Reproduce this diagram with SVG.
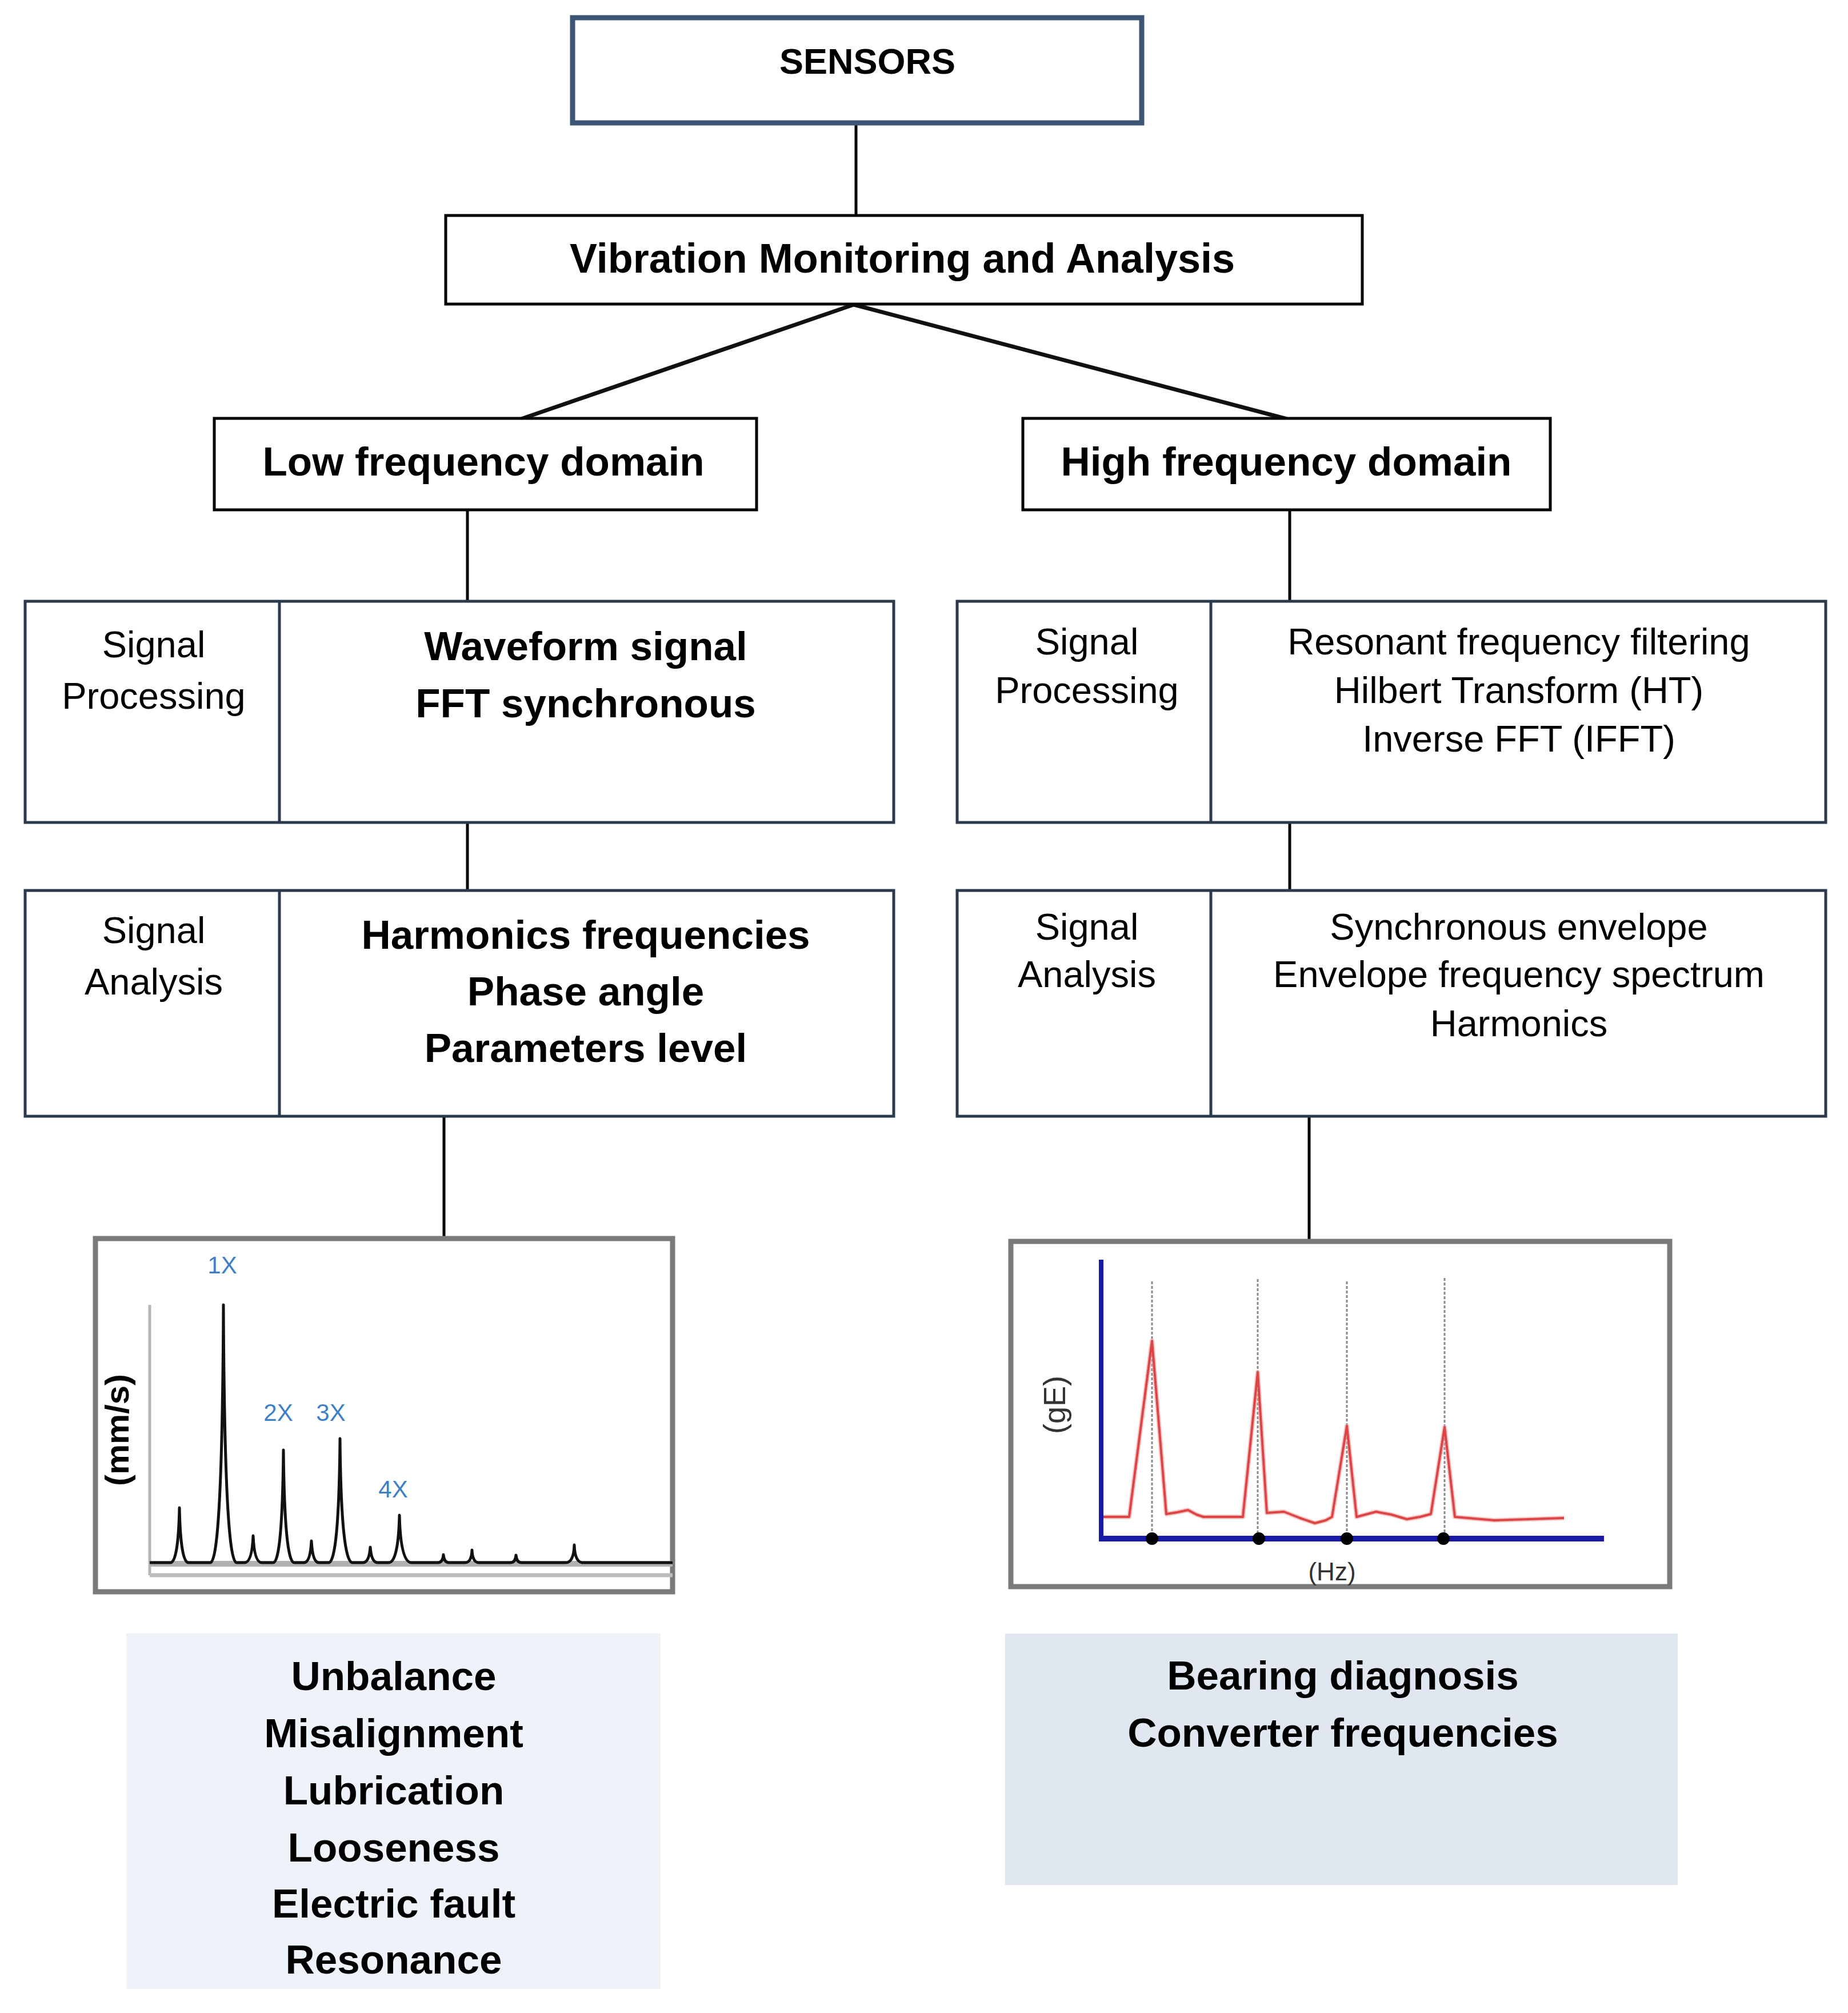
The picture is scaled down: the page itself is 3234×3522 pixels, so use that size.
<svg xmlns="http://www.w3.org/2000/svg" width="3234" height="3522" viewBox="0 0 3234 3522">
<style>
  text { font-family: "Liberation Sans", Arial, sans-serif; fill: #000; }
  .b { font-weight: bold; font-size: 71px; text-anchor: middle; }
  .r { font-weight: normal; font-size: 65px; text-anchor: middle; }
  .box { fill: #fff; stroke: #000; stroke-width: 5; }
  .pbox { fill: #fff; stroke: #2b3a4e; stroke-width: 5; }
  .conn { stroke: #000; stroke-width: 5; fill: none; }
  .diag { stroke: #111; stroke-width: 7; fill: none; }
  .chart { fill: #fff; stroke: #7a7a7a; stroke-width: 9; }
  .lbl { font-size: 42px; fill: #3f7fc6; text-anchor: middle; }
  .dash { stroke: #8a8a8a; stroke-width: 3; stroke-dasharray: 5 3; }
</style>

<rect width="3234" height="3522" fill="#fff"/>

<g id="connectors">
  <line class="conn" x1="1498" y1="217" x2="1498" y2="377"/>
  <line class="diag" x1="1494" y1="533" x2="912" y2="733"/>
  <line class="diag" x1="1494" y1="533" x2="2252" y2="733"/>
  <line class="conn" x1="818" y1="893" x2="818" y2="1052"/>
  <line class="conn" x1="2257" y1="893" x2="2257" y2="1052"/>
  <line class="conn" x1="818" y1="1439" x2="818" y2="1558"/>
  <line class="conn" x1="2257" y1="1439" x2="2257" y2="1558"/>
  <line class="conn" x1="777" y1="1953" x2="777" y2="2163"/>
  <line class="conn" x1="2291" y1="1953" x2="2291" y2="2180"/>
</g>

<g id="sensors">
  <rect x="1002" y="31" width="996" height="184" fill="#fff" stroke="#3e5675" stroke-width="9"/>
  <text class="b" x="1518" y="129" style="font-size:63px">SENSORS</text>
</g>

<g id="vibration">
  <rect class="box" x="780" y="377" width="1604" height="155"/>
  <text class="b" x="1579" y="477" style="font-size:72px">Vibration Monitoring and Analysis</text>
</g>

<g id="low-frequency">
  <rect class="box" x="375" y="732" width="949" height="160"/>
  <text class="b" x="846" y="832">Low frequency domain</text>
</g>

<g id="high-frequency">
  <rect class="box" x="1790" y="732" width="923" height="160"/>
  <text class="b" x="2251" y="832">High frequency domain</text>
</g>

<g id="low-processing">
  <rect class="pbox" x="44" y="1052" width="1520" height="387"/>
  <line class="pbox" x1="489" y1="1052" x2="489" y2="1439"/>
  <text class="r" x="269" y="1150">Signal</text>
  <text class="r" x="269" y="1240">Processing</text>
  <text class="b" x="1025" y="1155">Waveform signal</text>
  <text class="b" x="1025" y="1255">FFT synchronous</text>
</g>

<g id="high-processing">
  <rect class="pbox" x="1675" y="1052" width="1520" height="387"/>
  <line class="pbox" x1="2119" y1="1052" x2="2119" y2="1439"/>
  <text class="r" x="1902" y="1145">Signal</text>
  <text class="r" x="1902" y="1230">Processing</text>
  <text class="r" x="2658" y="1145">Resonant frequency filtering</text>
  <text class="r" x="2658" y="1230">Hilbert Transform (HT)</text>
  <text class="r" x="2658" y="1315">Inverse FFT (IFFT)</text>
</g>

<g id="low-analysis">
  <rect class="pbox" x="44" y="1558" width="1520" height="395"/>
  <line class="pbox" x1="489" y1="1558" x2="489" y2="1953"/>
  <text class="r" x="269" y="1650">Signal</text>
  <text class="r" x="269" y="1740">Analysis</text>
  <text class="b" x="1025" y="1660">Harmonics frequencies</text>
  <text class="b" x="1025" y="1759">Phase angle</text>
  <text class="b" x="1025" y="1858">Parameters level</text>
</g>

<g id="high-analysis">
  <rect class="pbox" x="1675" y="1558" width="1520" height="395"/>
  <line class="pbox" x1="2119" y1="1558" x2="2119" y2="1953"/>
  <text class="r" x="1902" y="1644">Signal</text>
  <text class="r" x="1902" y="1727">Analysis</text>
  <text class="r" x="2658" y="1644">Synchronous envelope</text>
  <text class="r" x="2658" y="1727">Envelope frequency spectrum</text>
  <text class="r" x="2658" y="1813">Harmonics</text>
</g>

<g id="low-chart">
  <rect class="chart" x="167" y="2167" width="1010" height="618"/>
  <line x1="262" y1="2283" x2="262" y2="2756" stroke="#b5b5b5" stroke-width="5"/>
  <line x1="262" y1="2756" x2="1177" y2="2756" stroke="#bdbdbd" stroke-width="7"/>
  <path fill="none" stroke="#b0b0b0" stroke-width="10" stroke-linejoin="round" d="M262,2736 L1177,2736"/>
  <path fill="none" stroke="#111" stroke-width="5" stroke-linejoin="round" d="M262,2734 L298,2734 Q312,2734 314,2638 Q316,2734 330,2734 L368,2734 Q389,2734 391,2283 Q393,2734 414,2734 L428,2734 Q441,2734 443,2687 Q445,2734 458,2734 L478,2734 Q494,2734 496,2537 Q498,2734 515,2734 L532,2734 Q543,2734 545,2696 Q547,2734 558,2734 L575,2734 Q593,2734 595,2517 Q597,2734 617,2734 L635,2734 Q646,2734 648,2707 Q650,2734 661,2734 L680,2734 Q697,2734 699,2651 Q701,2734 720,2734 L766,2734 Q775,2734 776,2720 Q777,2734 786,2734 L814,2734 Q825,2734 826,2712 Q827,2734 838,2734 L893,2734 Q902,2734 903,2721 Q904,2734 913,2734 L990,2734 Q1004,2734 1005,2703 Q1006,2734 1020,2734 L1177,2734"/>
  <text class="lbl" x="389" y="2228">1X</text>
  <text class="lbl" x="487" y="2486">2X</text>
  <text class="lbl" x="579" y="2486">3X</text>
  <text class="lbl" x="688" y="2620">4X</text>
  <text x="204" y="2523" transform="rotate(-90 204 2502)" text-anchor="middle" font-weight="bold" font-size="58" textLength="196" lengthAdjust="spacingAndGlyphs">(mm/s)</text>
</g>

<g id="high-chart">
  <rect class="chart" x="1769" y="2172" width="1153" height="604"/>
  <line class="dash" x1="2016" y1="2242" x2="2016" y2="2692"/>
  <line class="dash" x1="2201" y1="2238" x2="2201" y2="2692"/>
  <line class="dash" x1="2357" y1="2242" x2="2357" y2="2692"/>
  <line class="dash" x1="2528" y1="2236" x2="2528" y2="2692"/>
  <path fill="none" stroke="#f0a0a0" stroke-width="8" stroke-linejoin="round" opacity="0.6" d="M1930,2654 L1976,2654 L2016,2346 L2041,2649 L2060,2646 L2079,2642 L2094,2650 L2106,2654 L2175,2654 L2201,2401 L2217,2647 L2247,2645 L2275,2656 L2301,2665 L2320,2660 L2331,2654 L2357,2495 L2374,2654 L2408,2645 L2435,2650 L2462,2658 L2485,2654 L2504,2649 L2528,2497 L2546,2654 L2615,2660 L2737,2656"/>
  <path fill="none" stroke="#dd4444" stroke-width="4" stroke-linejoin="round" d="M1930,2654 L1976,2654 L2016,2346 L2041,2649 L2060,2646 L2079,2642 L2094,2650 L2106,2654 L2175,2654 L2201,2401 L2217,2647 L2247,2645 L2275,2656 L2301,2665 L2320,2660 L2331,2654 L2357,2495 L2374,2654 L2408,2645 L2435,2650 L2462,2658 L2485,2654 L2504,2649 L2528,2497 L2546,2654 L2615,2660 L2737,2656"/>
  <line x1="1927" y1="2204" x2="1927" y2="2696" stroke="#1a1aa8" stroke-width="8"/>
  <line x1="1923" y1="2692" x2="2807" y2="2692" stroke="#1a1aa8" stroke-width="10"/>
  <circle cx="2016" cy="2692" r="11" fill="#000"/>
  <circle cx="2203" cy="2692" r="11" fill="#000"/>
  <circle cx="2357" cy="2692" r="11" fill="#000"/>
  <circle cx="2526" cy="2692" r="11" fill="#000"/>
  <text x="1846" y="2476" transform="rotate(-90 1846 2458)" text-anchor="middle" font-size="54" style="fill:#333">(gE)</text>
  <text x="2331" y="2765" text-anchor="middle" font-size="44" style="fill:#333">(Hz)</text>
</g>

<g id="low-faults">
  <rect x="221" y="2858" width="935" height="622" fill="#eef2f9"/>
  <text class="b" x="689" y="2957">Unbalance</text>
  <text class="b" x="689" y="3057">Misalignment</text>
  <text class="b" x="689" y="3157">Lubrication</text>
  <text class="b" x="689" y="3257">Looseness</text>
  <text class="b" x="689" y="3355">Electric fault</text>
  <text class="b" x="689" y="3453">Resonance</text>
</g>

<g id="high-faults">
  <rect x="1759" y="2858" width="1177" height="440" fill="#e0e7f1"/>
  <text class="b" x="2350" y="2956">Bearing diagnosis</text>
  <text class="b" x="2350" y="3056">Converter frequencies</text>
</g>
</svg>
